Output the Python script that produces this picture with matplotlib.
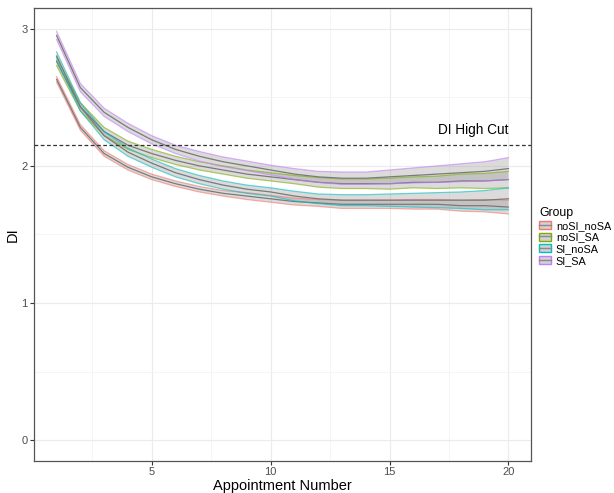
import matplotlib.pyplot as plt
from matplotlib.patches import Patch
from matplotlib.lines import Line2D
from matplotlib.legend_handler import HandlerTuple

plt.rcParams["font.family"] = ["Liberation Sans", "DejaVu Sans"]

appointments = list(range(1, 21))
groups = ["noSI_noSA", "noSI_SA", "SI_noSA", "SI_SA"]
colors = ["#F8766D", "#7CAE00", "#00BFC4", "#C77CFF"]

mean_nosi_nosa = [2.63, 2.28, 2.09, 1.99, 1.92, 1.87, 1.83, 1.80, 1.78, 1.76,
                  1.74, 1.73, 1.72, 1.72, 1.72, 1.72, 1.72, 1.71, 1.71, 1.70]
mean_nosi_sa = [2.76, 2.43, 2.25, 2.15, 2.09, 2.04, 2.00, 1.97, 1.94, 1.92,
                1.90, 1.88, 1.87, 1.87, 1.87, 1.88, 1.88, 1.89, 1.89, 1.90]
mean_si_nosa = [2.80, 2.43, 2.22, 2.10, 2.02, 1.95, 1.90, 1.86, 1.83, 1.81,
                1.78, 1.76, 1.75, 1.75, 1.75, 1.75, 1.75, 1.75, 1.75, 1.76]
mean_si_sa = [2.95, 2.57, 2.39, 2.28, 2.19, 2.12, 2.07, 2.03, 2.00, 1.97,
              1.94, 1.92, 1.91, 1.91, 1.92, 1.93, 1.94, 1.95, 1.96, 1.98]

ci_nosi_nosa = [0.02, 0.02, 0.02, 0.02, 0.02, 0.02, 0.02, 0.02, 0.025, 0.025,
                0.025, 0.025, 0.03, 0.03, 0.03, 0.035, 0.035, 0.04, 0.045, 0.05]
ci_nosi_sa = [0.03, 0.03, 0.03, 0.03, 0.03, 0.03, 0.03, 0.03, 0.03, 0.03,
              0.03, 0.035, 0.035, 0.035, 0.04, 0.04, 0.045, 0.05, 0.055, 0.06]
ci_si_nosa = [0.03, 0.03, 0.03, 0.03, 0.03, 0.03, 0.03, 0.03, 0.03, 0.03,
              0.035, 0.035, 0.04, 0.04, 0.045, 0.05, 0.055, 0.06, 0.07, 0.08]
ci_si_sa = [0.03, 0.03, 0.03, 0.03, 0.03, 0.03, 0.035, 0.035, 0.035, 0.035,
            0.04, 0.04, 0.045, 0.045, 0.05, 0.055, 0.06, 0.065, 0.07, 0.08]

means = [mean_nosi_nosa, mean_nosi_sa, mean_si_nosa, mean_si_sa]
cis = [ci_nosi_nosa, ci_nosi_sa, ci_si_nosa, ci_si_sa]

high_cut = 2.15

fig = plt.figure(figsize=(6.14, 4.93), dpi=100)
ax = fig.add_axes([34 / 614, 32 / 493, 497 / 614, 453 / 493])

handles = []
for name, col, m, c in zip(groups, colors, means, cis):
    lo = [a - b for a, b in zip(m, c)]
    hi = [a + b for a, b in zip(m, c)]
    ax.fill_between(appointments, lo, hi, facecolor="#999999", alpha=0.35,
                    edgecolor="none", zorder=2)
    ax.plot(appointments, lo, color=col, lw=0.9, alpha=0.6, zorder=3)
    ax.plot(appointments, hi, color=col, lw=0.9, alpha=0.6, zorder=3)
    ax.plot(appointments, m, color="#7a7a7a", lw=0.9, zorder=3)
    handles.append((Patch(facecolor=(0.82, 0.82, 0.82), edgecolor=col, lw=1.0),
                    Line2D([], [], color="#8a8a8a", lw=1.0)))

ax.axhline(high_cut, color="#333333", ls=(0, (3, 2)), lw=0.9, zorder=4)
ax.text(18.5, 2.26, "DI High Cut", ha="center", va="center", fontsize=9.8)

ax.set_xlim(0.05, 20.95)
ax.set_ylim(-0.15, 3.15)
ax.set_xticks([5, 10, 15, 20])
ax.set_xticks([2.5, 7.5, 12.5, 17.5], minor=True)
ax.set_yticks([0, 1, 2, 3])
ax.set_yticks([0.5, 1.5, 2.5], minor=True)
ax.grid(True, which="major", color="#EBEBEB", lw=0.8, zorder=0)
ax.grid(True, which="minor", color="#F4F4F4", lw=0.6, zorder=0)
ax.set_axisbelow(True)
ax.tick_params(which="major", length=3, color="#333333", labelcolor="#4D4D4D",
               labelsize=8, pad=1.5)
ax.tick_params(which="minor", length=0)
for s in ax.spines.values():
    s.set_color("#555555")
    s.set_linewidth(0.9)

ax.set_xlabel("Appointment Number", fontsize=10.5, labelpad=1)
ax.set_ylabel("DI", fontsize=10.5, labelpad=1)

leg = fig.legend(handles, groups, title="Group", loc="upper left",
                 bbox_to_anchor=(537 / 614, 1 - 205 / 493), frameon=False,
                 fontsize=7.8, title_fontsize=8.8, handlelength=1.1,
                 handleheight=0.8, labelspacing=0.15, handletextpad=0.45,
                 borderaxespad=0, borderpad=0.2,
                 handler_map={tuple: HandlerTuple(ndivide=1, pad=0)})
leg._legend_box.align = "left"

fig.savefig("out.png", dpi=100)
